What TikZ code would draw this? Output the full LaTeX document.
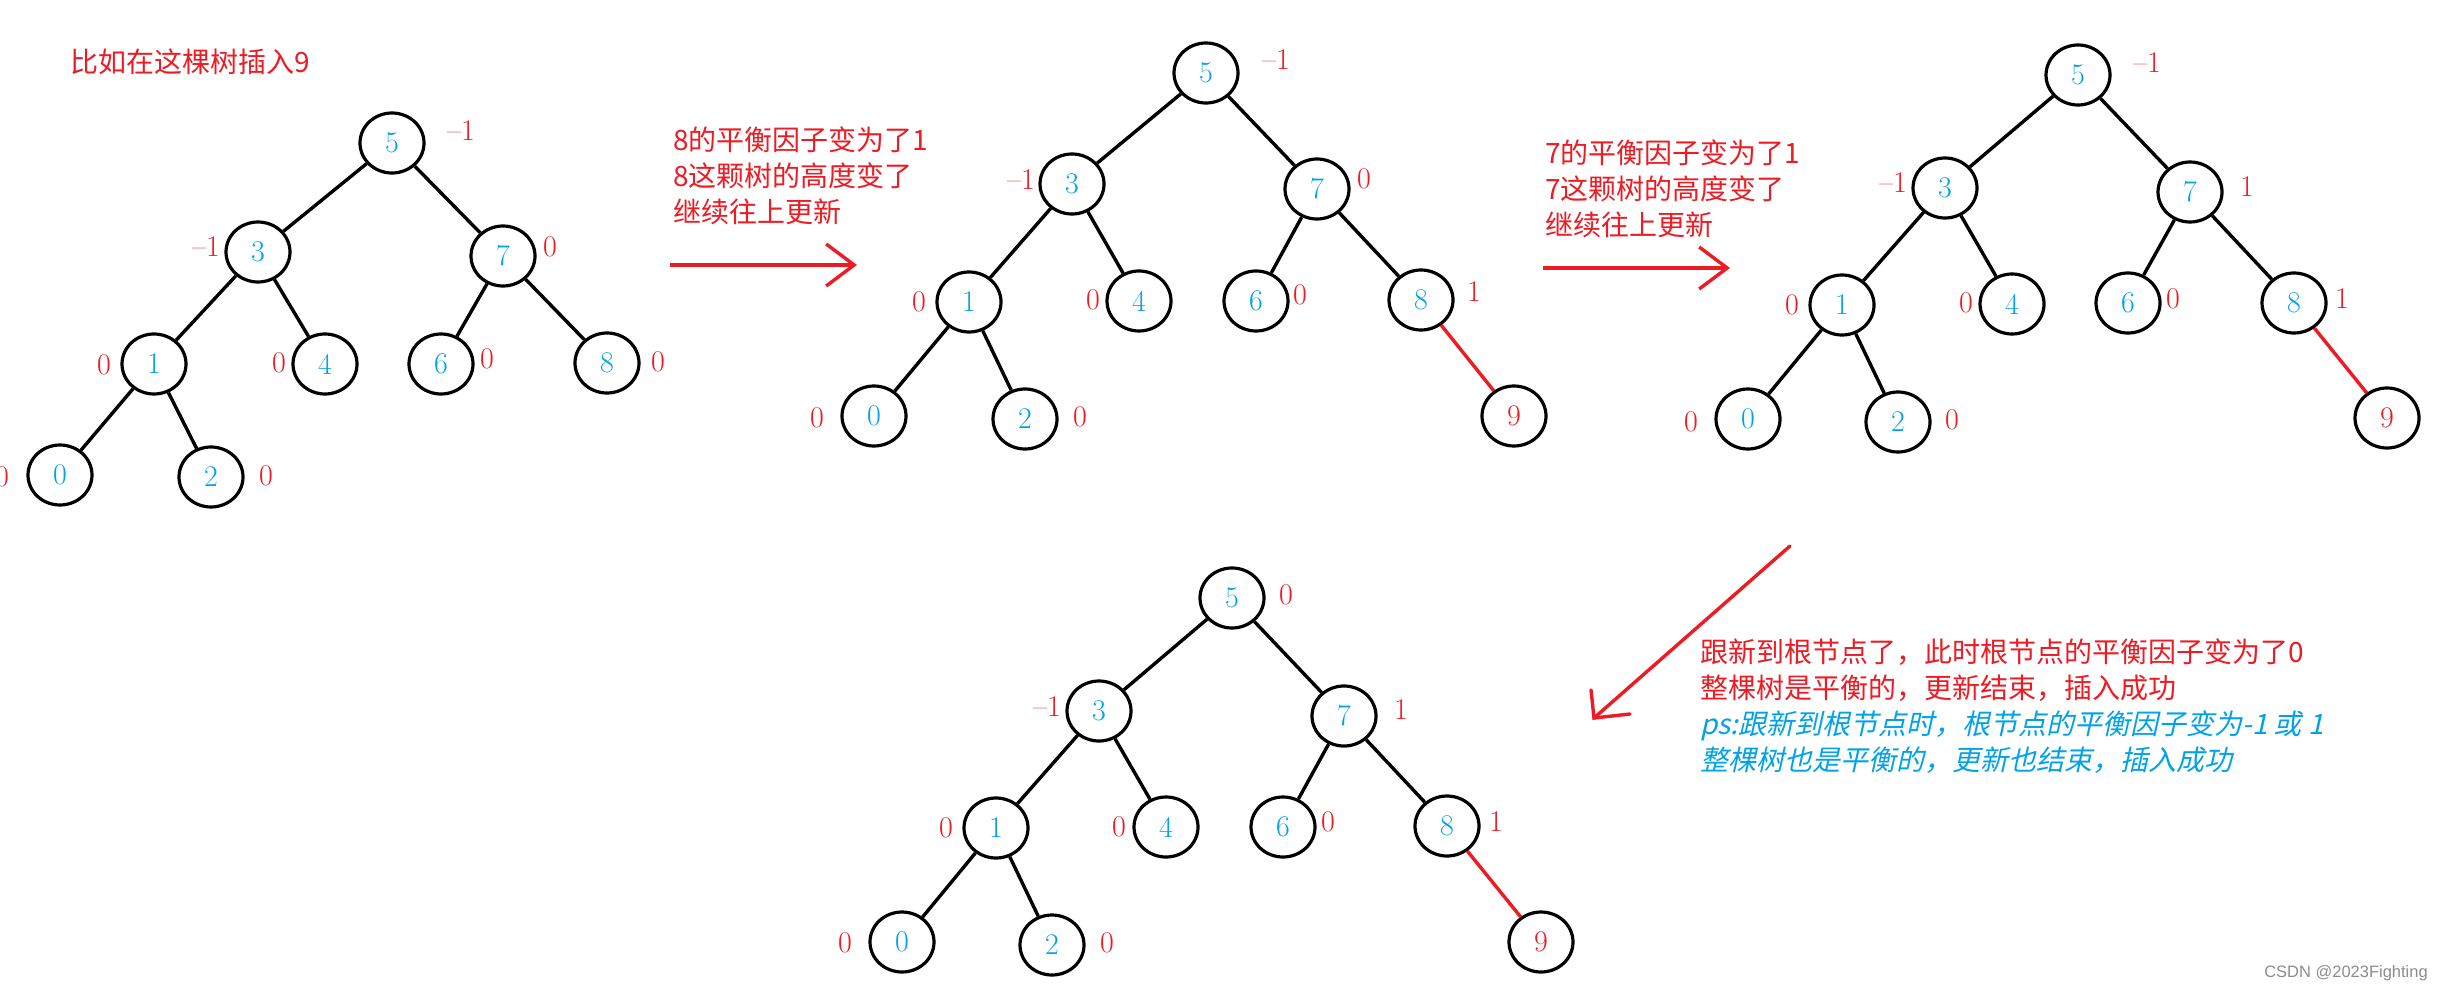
\documentclass[tikz,border=0pt]{standalone}
\usepackage{fontspec}
\usetikzlibrary{shapes.geometric,arrows.meta}
\newfontfamily\cjk{Noto Sans CJK SC}
\newfontfamily\cjkit{Noto Sans CJK SC}[FakeSlant=0.22]
\newfontfamily\wmfont{Liberation Sans}
\definecolor{pred}{HTML}{ED1C24}
\definecolor{nblue}{HTML}{00A2E8}
\tikzset{
  tn/.style={draw=black, ellipse, line width=3.2pt, minimum width=64pt, minimum height=60pt, inner sep=0pt, text=nblue, font=\fontsize{30}{32}\selectfont},
  bal/.style={text=pred, inner sep=0pt, font=\fontsize{30}{32}\selectfont},
  edg/.style={line width=3.4pt, draw=black},
  redg/.style={line width=3.4pt, draw=pred},
  note/.style={text=pred, inner sep=0pt, anchor=west, align=left, font=\cjk\fontsize{28}{36}\selectfont},
  rarrow/.style={draw=pred, line width=3.4pt, -{Straight Barb[length=28pt, width=42pt]}},
  redline/.style={draw=pred, line width=3.4pt, line cap=round},
}
\begin{document}
\begin{tikzpicture}[x=1pt,y=-1pt]
\fill[white] (0,0) rectangle (2446,992);
\useasboundingbox (0,0) rectangle (2446,992);

% title
\node[note] (title) at (70,62) {比如在这棵树插入9};

% ---------- tree 1 ----------
\node[tn] (a5) at (392,143) {5};
\node[tn] (a3) at (258,252) {3};
\node[tn] (a7) at (503,256) {7};
\node[tn] (a1) at (154,364) {1};
\node[tn] (a4) at (325,364) {4};
\node[tn] (a6) at (441,364) {6};
\node[tn] (a8) at (607,363) {8};
\node[tn] (a0) at (60,475) {0};
\node[tn] (a2) at (211,477) {2};
\node[bal] (la5) at (461,131) {--1};
\node[bal] (la3) at (206,247) {--1};
\node[bal] (la7) at (550,247) {0};
\node[bal] (la1) at (104,365) {0};
\node[bal] (la4) at (279,363) {0};
\node[bal] (la6) at (487,359) {0};
\node[bal] (la8) at (658,362) {0};
\node[bal] (la0) at (2,477) {0};
\node[bal] (la2) at (266,476) {0};

% ---------- tree 2 ----------
\node[tn] (b5) at (1206,73) {5};
\node[tn] (b3) at (1072,184) {3};
\node[tn] (b7) at (1317,189) {7};
\node[tn] (b1) at (969,302) {1};
\node[tn] (b4) at (1139,301) {4};
\node[tn] (b6) at (1256,301) {6};
\node[tn] (b8) at (1421,300) {8};
\node[tn] (b0) at (874,416) {0};
\node[tn] (b2) at (1025,419) {2};
\node[tn, text=pred] (b9) at (1514,416) {9};
\node[bal] (lb5) at (1276,60) {--1};
\node[bal] (lb3) at (1021,180) {--1};
\node[bal] (lb7) at (1364,179) {0};
\node[bal] (lb1) at (919,302) {0};
\node[bal] (lb4) at (1093,300) {0};
\node[bal] (lb6) at (1300,295) {0};
\node[bal] (lb8) at (1474,292) {1};
\node[bal] (lb0) at (817,418) {0};
\node[bal] (lb2) at (1080,417) {0};

% ---------- tree 3 ----------
\node[tn] (c5) at (2078,75) {5};
\node[tn] (c3) at (1945,188) {3};
\node[tn] (c7) at (2190,192) {7};
\node[tn] (c1) at (1842,305) {1};
\node[tn] (c4) at (2012,304) {4};
\node[tn] (c6) at (2128,303) {6};
\node[tn] (c8) at (2294,303) {8};
\node[tn] (c0) at (1748,419) {0};
\node[tn] (c2) at (1898,422) {2};
\node[tn, text=pred] (c9) at (2387,418) {9};
\node[bal] (lc5) at (2147,63) {--1};
\node[bal] (lc3) at (1893,183) {--1};
\node[bal] (lc7) at (2247,187) {1};
\node[bal] (lc1) at (1792,305) {0};
\node[bal] (lc4) at (1966,303) {0};
\node[bal] (lc6) at (2173,299) {0};
\node[bal] (lc8) at (2342,299) {1};
\node[bal] (lc0) at (1691,422) {0};
\node[bal] (lc2) at (1952,420) {0};

% ---------- tree 4 ----------
\node[tn] (d5) at (1232,598) {5};
\node[tn] (d3) at (1099,711) {3};
\node[tn] (d7) at (1344,716) {7};
\node[tn] (d1) at (996,828) {1};
\node[tn] (d4) at (1166,827) {4};
\node[tn] (d6) at (1283,827) {6};
\node[tn] (d8) at (1447,826) {8};
\node[tn] (d0) at (902,942) {0};
\node[tn] (d2) at (1052,945) {2};
\node[tn, text=pred] (d9) at (1541,942) {9};
\node[bal] (ld5) at (1286,595) {0};
\node[bal] (ld3) at (1047,707) {--1};
\node[bal] (ld7) at (1401,710) {1};
\node[bal] (ld1) at (946,828) {0};
\node[bal] (ld4) at (1119,827) {0};
\node[bal] (ld6) at (1328,822) {0};
\node[bal] (ld8) at (1496,822) {1};
\node[bal] (ld0) at (845,943) {0};
\node[bal] (ld2) at (1107,943) {0};

% edges
\foreach \tr in {a,b,c,d}{
  \draw[edg] (\tr5) -- (\tr3);
  \draw[edg] (\tr5) -- (\tr7);
  \draw[edg] (\tr3) -- (\tr1);
  \draw[edg] (\tr3) -- (\tr4);
  \draw[edg] (\tr7) -- (\tr6);
  \draw[edg] (\tr7) -- (\tr8);
  \draw[edg] (\tr1) -- (\tr0);
  \draw[edg] (\tr1) -- (\tr2);
}
\foreach \tr in {b,c,d}{
  \draw[redg] (\tr8) -- (\tr9);
}

% annotations
\node[note] (n1) at (673,176) {8的平衡因子变为了1\\8这颗树的高度变了\\继续往上更新};
\node[note] (n2) at (1545,189) {7的平衡因子变为了1\\7这颗树的高度变了\\继续往上更新};
\node[note] (n4) at (1700,706) {跟新到根节点了，此时根节点的平衡因子变为了0\\整棵树是平衡的，更新结束，插入成功\\{\cjkit\color{nblue}ps:跟新到根节点时，根节点的平衡因子变为-1 或 1}\\{\cjkit\color{nblue}整棵树也是平衡的，更新也结束，插入成功}};

% arrows
\coordinate (h1s) at (670,265);
\coordinate (h1e) at (857,265);
\draw[rarrow] (h1s) -- (h1e);
\coordinate (h2s) at (1543,268);
\coordinate (h2e) at (1730,268);
\draw[rarrow] (h2s) -- (h2e);
\coordinate (ds) at (1790,546);
\coordinate (dt) at (1594,718);
\coordinate (dw1) at (1591,690);
\coordinate (dw2) at (1630,714);
\draw[redline] (ds) -- (dt);
\draw[redline] (dw1) -- (dt) -- (dw2);

% watermark
\node[text=black!45, inner sep=0pt, font=\wmfont\fontsize{16.5}{18}\selectfont] (wm) at (2346,973) {CSDN @2023Fighting};
\end{tikzpicture}
\end{document}
